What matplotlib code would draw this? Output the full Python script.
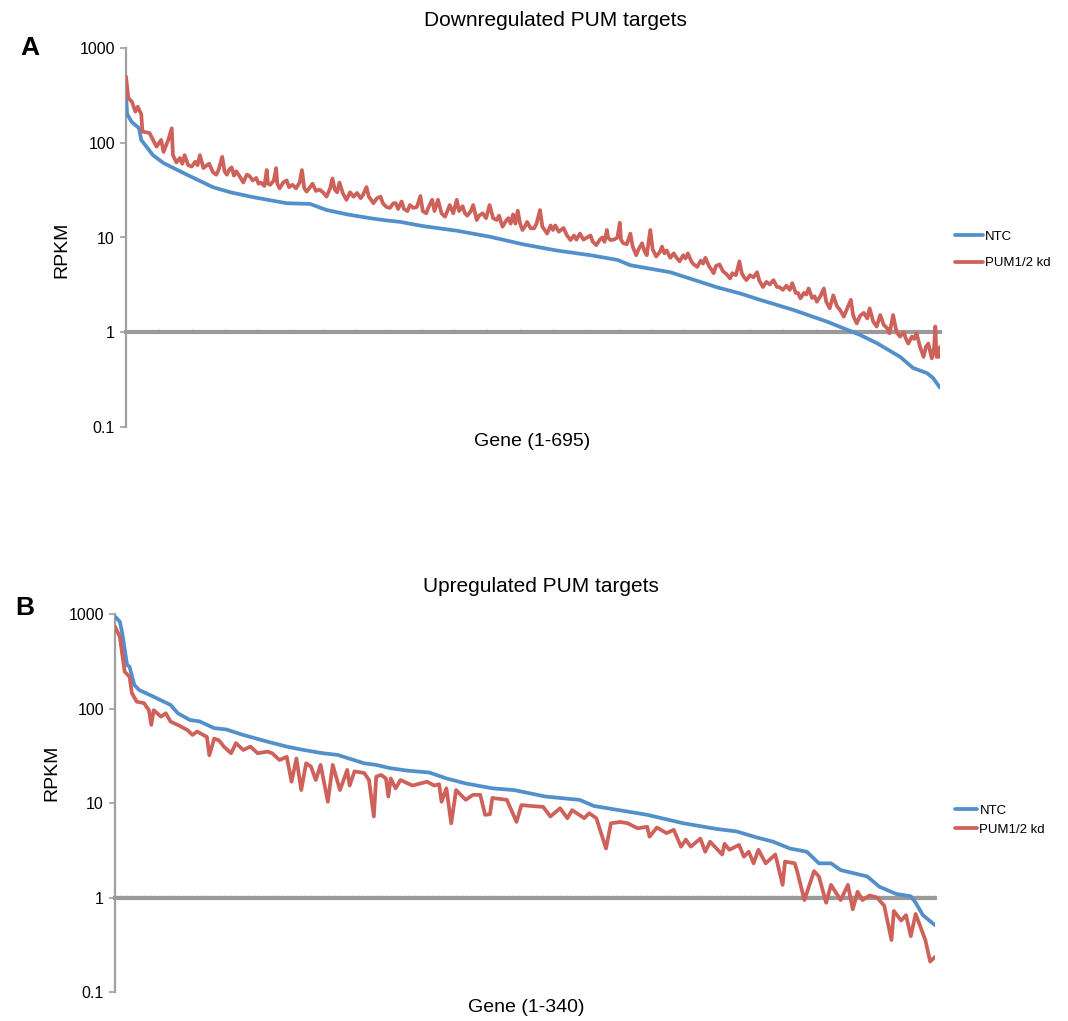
import numpy as np
import matplotlib
matplotlib.use('Agg')
import matplotlib.pyplot as plt

plt.rcParams['font.family'] = ['Liberation Sans', 'DejaVu Sans']

BLUE = '#5390cb'
RED = '#cf615b'
GREY = '#a0a0a0'

# Downregulated PUM targets, genes 1-695: (gene, RPKM)
down_ntc = [(1, 319), (2, 200), (6, 165), (12, 143), (14, 107), (24, 74), (33, 61), (53, 46),
            (75, 34), (90, 30), (109, 26.7), (138, 23), (158, 22.6), (172, 19.5), (190, 17.5),
            (209, 16), (222, 15.2), (235, 14.6), (254, 13.2), (283, 11.8), (311, 10.2),
            (339, 8.5), (368, 7.3), (397, 6.5), (420, 5.8), (431, 5.1), (465, 4.3), (490, 3.42),
            (505, 2.98), (524, 2.58), (542, 2.19), (570, 1.72), (599, 1.29), (616, 1.06),
            (627, 0.935), (641, 0.77), (661, 0.55), (672, 0.42), (684, 0.37), (689, 0.33),
            (695, 0.26)]

down_kd = [(1, 498), (3, 297), (6, 271), (9, 213), (11, 240), (14, 200), (15, 131), (21, 127),
           (27, 91), (31, 107), (33, 80), (37, 107), (40, 142), (41, 74), (44, 62), (47, 69),
           (49, 60), (51, 74), (54, 58), (57, 56), (60, 63), (62, 58), (64, 74), (67, 54),
           (70, 58), (72, 60), (75, 49), (78, 46), (80, 52), (83, 71), (85, 50), (87, 46),
           (89, 52), (91, 55), (93, 45), (95, 50), (98, 44), (101, 38), (104, 46), (106, 45),
           (109, 40), (112, 42.5), (114, 37), (116, 38), (119, 35), (121, 51.5), (122, 37),
           (124, 36), (127, 40), (129, 54), (130, 37), (132, 33), (135, 38), (138, 40),
           (140, 34), (143, 36), (146, 33), (149, 38), (151, 51.5), (153, 33), (155, 30.5),
           (158, 34), (160, 37), (163, 31), (166, 32), (169, 30), (172, 27), (175, 33),
           (177, 42), (179, 32), (181, 30), (183, 38), (186, 29), (189, 25), (192, 30),
           (195, 27), (198, 29.5), (201, 26), (203, 28), (206, 34), (208, 27), (210, 25),
           (212, 23), (215, 26), (218, 27), (220, 23), (223, 21), (226, 20.5), (229, 23),
           (231, 23), (233, 20), (236, 24), (238, 20), (241, 19), (243, 22), (246, 20.5),
           (249, 21), (252, 27.4), (254, 19), (257, 18), (259, 21), (262, 25), (264, 19),
           (267, 25), (270, 18), (273, 16.6), (275, 19), (277, 22), (280, 18), (283, 25),
           (285, 19), (288, 21.4), (290, 18), (292, 17), (295, 19), (297, 22), (300, 15.3),
           (302, 17), (305, 18), (308, 16), (311, 22), (314, 16), (317, 15.3), (319, 17),
           (322, 13), (325, 15), (327, 16), (329, 14), (331, 17.5), (333, 14), (335, 19.2),
           (337, 14), (339, 12), (341, 13), (343, 14.6), (346, 12.5), (349, 12.5), (351, 14),
           (354, 19.5), (356, 13), (358, 12), (360, 11), (363, 13.4), (365, 12), (367, 13.4),
           (370, 11.5), (374, 12.6), (377, 10.5), (380, 9.4), (383, 10.5), (385, 9.5),
           (388, 11), (391, 9.5), (394, 10), (397, 10.5), (399, 9), (402, 8.3), (405, 9.5),
           (407, 10), (409, 9), (411, 12), (412, 10), (414, 9.4), (417, 9.5), (420, 10),
           (422, 14.3), (423, 9.5), (425, 8.7), (428, 8.5), (431, 11), (433, 8), (436, 6.5),
           (438, 7.5), (441, 8.7), (443, 7.2), (445, 6.5), (448, 12), (450, 7.5), (453, 6.3),
           (456, 7), (458, 8), (460, 6.8), (462, 7.3), (465, 6.1), (468, 6.8), (470, 6.2),
           (473, 5.6), (476, 6.5), (478, 6.0), (480, 6.8), (483, 5.6), (485, 5.2), (488, 4.9),
           (491, 5.7), (493, 5.3), (495, 6.1), (498, 5.0), (500, 4.6), (502, 4.2), (504, 5.0),
           (507, 5.2), (510, 4.4), (513, 4.1), (516, 3.7), (518, 4.2), (521, 4.0), (524, 5.6),
           (526, 4.2), (528, 3.8), (530, 3.55), (533, 4.0), (536, 3.8), (539, 4.3), (541, 3.5),
           (544, 3.0), (547, 3.4), (550, 3.2), (553, 3.55), (556, 3.0), (558, 3.0), (561, 2.8),
           (564, 3.1), (567, 2.8), (569, 3.3), (572, 2.6), (574, 2.6), (576, 2.28), (579, 2.6),
           (581, 2.5), (583, 2.9), (586, 2.3), (588, 2.4), (590, 2.1), (593, 2.4), (596, 2.9),
           (598, 2.1), (601, 1.79), (604, 2.45), (607, 1.9), (610, 1.7), (613, 1.46), (616, 1.8),
           (619, 2.2), (621, 1.5), (624, 1.24), (627, 1.5), (630, 1.6), (633, 1.4), (635, 1.79),
           (638, 1.3), (641, 1.15), (644, 1.52), (647, 1.2), (650, 1.1), (652, 0.975),
           (655, 1.52), (658, 1.0), (661, 0.9), (664, 1.0), (666, 0.85), (668, 0.76), (671, 0.9),
           (673, 0.85), (675, 0.975), (678, 0.7), (681, 0.55), (683, 0.7), (685, 0.76),
           (688, 0.53), (690, 0.7), (691, 1.15), (692, 0.55), (694, 0.55), (695, 0.7)]

# Upregulated PUM targets, genes 1-340: (gene, RPKM)
up_ntc = [(1, 937), (3, 830), (4, 625), (6, 288), (7, 277), (9, 177), (11, 157), (17, 133),
          (24, 109), (27, 89), (32, 75.5), (36, 73), (42, 62), (47, 60), (54, 52.5), (64, 44.6),
          (72, 39.5), (79, 36.4), (87, 33.6), (93, 32.3), (104, 26.3), (109, 25.3), (115, 23.3),
          (122, 22), (131, 21), (138, 18.2), (146, 16.1), (157, 14.3), (166, 13.7), (179, 11.7),
          (193, 10.8), (199, 9.3), (207, 8.6), (221, 7.5), (236, 6.1), (250, 5.3), (258, 5.0),
          (266, 4.34), (273, 3.9), (280, 3.3), (287, 3.05), (292, 2.3), (297, 2.3), (301, 1.95),
          (312, 1.67), (317, 1.3), (324, 1.09), (330, 1.03), (332, 0.88), (335, 0.65),
          (340, 0.51)]

up_kd = [(1, 735), (3, 575), (5, 245), (7, 217), (8, 145), (10, 118), (13, 114), (15, 96),
         (16, 67), (17, 96), (20, 82), (22, 89), (24, 72.5), (27, 67), (31, 59), (33, 52.5),
         (35, 57), (39, 50), (40, 32), (42, 48), (44, 46), (46, 39.5), (49, 33.6), (51, 43),
         (54, 36.4), (57, 39.5), (60, 33.6), (64, 35), (66, 33.6), (69, 28.5), (72, 30.8),
         (74, 16.8), (76, 29.6), (78, 13.7), (80, 26.3), (82, 24.3), (84, 17.5), (86, 25.3),
         (89, 10.3), (91, 25.3), (94, 13.7), (97, 22.4), (98, 15.3), (100, 21.6), (104, 20.8),
         (106, 17.5), (108, 7.2), (109, 19), (111, 19.8), (113, 18.2), (114, 11.7), (115, 18.2),
         (117, 14.3), (119, 17.5), (124, 15.3), (130, 16.8), (133, 15.3), (135, 15.8),
         (136, 10.3), (138, 14.3), (140, 6.1), (142, 13.7), (146, 10.8), (149, 12.2),
         (152, 12.2), (154, 7.5), (156, 7.6), (157, 11.3), (163, 10.8), (167, 6.3), (169, 9.5),
         (173, 9.3), (178, 9.1), (181, 7.2), (185, 8.8), (188, 6.9), (190, 8.4), (195, 6.9),
         (197, 7.8), (200, 6.9), (204, 3.3), (206, 6.1), (210, 6.3), (213, 6.1), (217, 5.4),
         (221, 5.6), (222, 4.4), (225, 5.5), (229, 4.8), (232, 5.2), (235, 3.45), (237, 4.1),
         (239, 3.45), (243, 4.2), (245, 3.05), (247, 3.9), (252, 2.85), (253, 3.7), (255, 3.2),
         (259, 3.6), (261, 2.7), (263, 3.05), (265, 2.3), (267, 3.2), (270, 2.3), (274, 2.85),
         (277, 1.36), (278, 2.4), (282, 2.3), (283, 1.9), (286, 0.94), (290, 1.9), (292, 1.67),
         (295, 0.88), (297, 1.36), (301, 0.94), (304, 1.36), (306, 0.75), (308, 1.15),
         (310, 0.94), (313, 1.05), (316, 1.0), (319, 0.82), (322, 0.355), (323, 0.72),
         (326, 0.57), (328, 0.65), (330, 0.39), (332, 0.67), (336, 0.355), (338, 0.21),
         (340, 0.235)]

y_ticks = [0.1, 1, 10, 100, 1000]
y_labels = ['0.1', '1', '10', '100', '1000']


def draw_panel(ax, ntc, kd, n_genes, tick_step):
    gx, gy = zip(*ntc)
    ax.plot(gx, gy, color=BLUE, lw=2.7, label='NTC', zorder=4,
            solid_joinstyle='round', solid_capstyle='round')
    gx, gy = zip(*kd)
    ax.plot(gx, gy, color=RED, lw=2.7, label='PUM1/2 kd', zorder=4,
            solid_joinstyle='round', solid_capstyle='round')
    ax.set_yscale('log')
    ax.set_ylim(0.1, 1000)
    ax.set_xlim(1, n_genes)
    ax.set_yticks(y_ticks)
    ax.set_yticklabels(y_labels)
    ax.minorticks_off()
    ax.set_xticks(np.arange(1, n_genes + 1, tick_step))
    ax.tick_params(axis='x', length=2, width=0.7, color='#d0d0d0', direction='in',
                   labelbottom=False)
    ax.tick_params(axis='y', length=4, width=1.2, color=GREY, labelsize=11.5, pad=4)
    for s in ['top', 'right']:
        ax.spines[s].set_visible(False)
    ax.spines['left'].set_color(GREY)
    ax.spines['left'].set_linewidth(1.6)
    ax.spines['bottom'].set_position(('data', 1))
    ax.spines['bottom'].set_color('#9a9a9a')
    ax.spines['bottom'].set_linewidth(3)


fig = plt.figure(figsize=(10.68, 10.21), dpi=100)
W, H = 1068, 1021

ax1 = fig.add_axes([126 / W, 1 - 427 / H, 814 / W, 379 / H])
draw_panel(ax1, down_ntc, down_kd, 695, 28)
ax2 = fig.add_axes([115 / W, 1 - 992 / H, 820 / W, 378 / H])
draw_panel(ax2, up_ntc, up_kd, 340, 1)

fig.text(555 / W, 1 - 20 / H, 'Downregulated PUM targets', ha='center', va='center', fontsize=15)
fig.text(541 / W, 1 - 586 / H, 'Upregulated PUM targets', ha='center', va='center', fontsize=15)
fig.text(532 / W, 1 - 441 / H, 'Gene (1-695)', ha='center', va='center', fontsize=14)
fig.text(526 / W, 1 - 1007 / H, 'Gene (1-340)', ha='center', va='center', fontsize=14)
fig.text(62 / W, 1 - 250 / H, 'RPKM', ha='center', va='center', rotation=90, fontsize=14)
fig.text(52 / W, 1 - 773 / H, 'RPKM', ha='center', va='center', rotation=90, fontsize=14)
fig.text(30 / W, 1 - 48 / H, 'A', ha='center', va='center', fontsize=19, fontweight='bold')
fig.text(25 / W, 1 - 608 / H, 'B', ha='center', va='center', fontsize=19, fontweight='bold')

ax1.legend(loc='center left', bbox_to_anchor=(955 / W, 1 - 250 / H),
           bbox_transform=fig.transFigure, frameon=False, fontsize=9.5,
           handlelength=2.1, handletextpad=0.15, labelspacing=1.1, borderpad=0,
           borderaxespad=0)
ax2.legend(loc='center left', bbox_to_anchor=(955 / W, 1 - 820 / H),
           bbox_transform=fig.transFigure, frameon=False, fontsize=9.5,
           handlelength=1.7, handletextpad=0.15, labelspacing=0.5, borderpad=0,
           borderaxespad=0)

fig.savefig('out.png', dpi=100)
